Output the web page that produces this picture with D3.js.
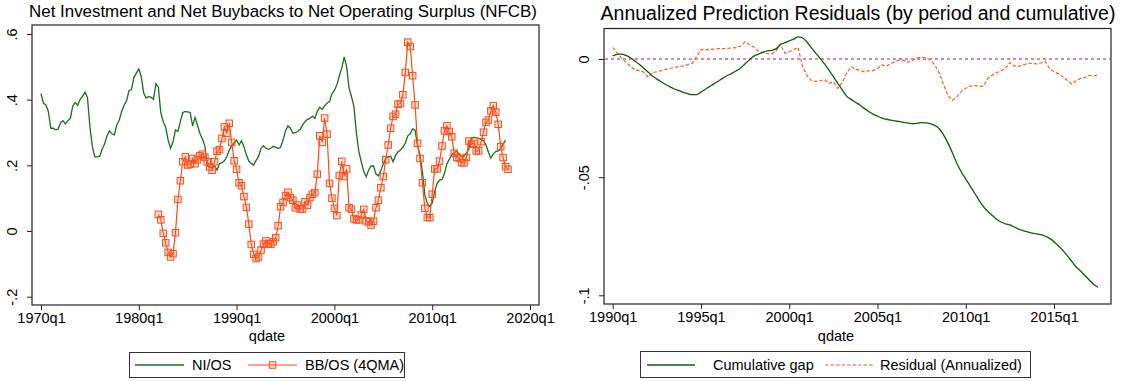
<!DOCTYPE html>
<meta charset="utf-8">
<title>NI/OS, BB/OS and prediction residuals</title>
<script src="https://d3js.org/d3.v7.min.js"></script>
<style>
  body { margin: 0; background: #fff; }
  text { font-family: "Liberation Sans", Arial, Helvetica, sans-serif; fill: #000; }
</style>
<body>
</body>
<script>
// ---- left panel data (quarterly) ----
var niStart = "1970q1";
var niOS = [
  .418, .389, .384, .364, .313, .313, .308, .310, .330, .336,
  .326, .336, .343, .381, .391, .383, .401, .410, .423, .407,
  .318, .257, .226, .226, .228, .249, .265, .290, .305, .296,
  .293, .323, .338, .364, .383, .397, .428, .430, .468, .481,
  .493, .470, .420, .405, .410, .407, .401, .448, .438, .360,
  .333, .316, .277, .252, .272, .308, .303, .333, .361, .364,
  .363, .361, .320, .346, .322, .297, .281, .260, .198, .195,
  .193, .198, .186, .205, .208, .214, .226, .247, .259, .268,
  .277, .262, .275, .257, .232, .213, .206, .201, .215, .228,
  .252, .259, .252, .249, .252, .258, .255, .252, .255, .277,
  .305, .320, .313, .298, .300, .303, .310, .323, .333, .340,
  .343, .350, .343, .364, .377, .371, .381, .389, .394, .418,
  .428, .445, .472, .496, .530, .501, .435, .409, .379, .298,
  .242, .211, .181, .165, .186, .198, .198, .174, .168, .184,
  .204, .221, .226, .228, .211, .231, .241, .247, .255, .267,
  .290, .296, .311, .308, .260, .232, .180, .110, .084, .074,
  .085, .120, .145, .155, .157, .175, .205, .218, .232, .240,
  .242, .235, .226, .228, .237, .250, .283, .285, .284, .282,
  .279, .275, .262, .240, .222, .235, .242, .244, .250, .265,
  .277
];
var bbStart = "1982q1";
var bbOS = [
  .051, .034, -.007, -.036, -.065, -.079, -.069, -.005, .096, .153,
  .211, .226, .201, .204, .221, .205, .217, .229, .234, .225,
  .211, .195, .185, .211, .243, .248, .282, .317, .298, .328,
  .270, .214, .188, .147, .138, .105, .072, .021, -.041, -.071,
  -.084, -.079, -.058, -.040, -.030, -.038, -.040, -.033, -.020, .016,
  .074, .087, .108, .118, .102, .094, .071, .079, .067, .067,
  .089, .079, .102, .112, .117, .173, .290, .270, .344, .295,
  .145, .100, .069, .047, .169, .212, .166, .189, .071, .066,
  .037, .034, .034, .049, .066, .031, .028, .018, .030, .071,
  .094, .132, .166, .217, .262, .313, .349, .356, .386, .388,
  .415, .483, .575, .562, .473, .384, .267, .221, .147, .069,
  .041, .041, .112, .189, .189, .213, .259, .305, .321, .303,
  .287, .237, .224, .222, .208, .208, .224, .274, .264, .267,
  .244, .244, .272, .301, .331, .338, .366, .382, .362, .325,
  .257, .224, .196, .188
];
var leftXTicks = ["1970q1", "1980q1", "1990q1", "2000q1", "2010q1", "2020q1"];
var leftYTicks = [-.2, 0, .2, .4, .6];

// ---- right panel data (quarterly) ----
var resStart = "1990q1";
var cumGap = [
  .0013, .0020, .0021, .0015, .0005, -.0008, -.0022, -.0038, -.0055, -.0072,
  -.0085, -.0096, -.0108, -.0118, -.0127, -.0134, -.0141, -.0147, -.0151, -.0151,
  -.0140, -.0128, -.0116, -.0104, -.0093, -.0081, -.0070, -.0061, -.0050, -.0038,
  -.0020, -.0003, .0012, .0021, .0028, .0034, .0037, .0043, .0060, .0069,
  .0077, .0084, .0094, .0090, .0072, .0048, .0025, .0003, -.0021, -.0047,
  -.0075, -.0103, -.0130, -.0157, -.0171, -.0183, -.0195, -.0209, -.0222, -.0233,
  -.0242, -.0250, -.0255, -.0259, -.0262, -.0265, -.0268, -.0271, -.0274, -.0272,
  -.0269, -.0270, -.0274, -.0281, -.0295, -.0322, -.0357, -.0398, -.0442, -.0478,
  -.0508, -.0537, -.0567, -.0597, -.0625, -.0645, -.0662, -.0678, -.0690, -.0698,
  -.0702, -.0711, -.0720, -.0726, -.0732, -.0737, -.0740, -.0743, -.0750, -.0759,
  -.0773, -.0790, -.0810, -.0832, -.0856, -.0879, -.0897, -.0916, -.0935, -.0954,
  -.0966
];
var residual = [
  .0049, .0026, .0004, -.0014, -.0030, -.0046, -.0049, -.0055, -.0077, -.0058,
  -.0054, -.0049, -.0044, -.0039, -.0036, -.0032, -.0029, -.0024, -.0018, .0010,
  .0040, .0039, .0040, .0042, .0044, .0044, .0045, .0047, .0048, .0055,
  .0073, .0060, .0050, .0033, .0027, .0023, .0021, .0035, .0063, .0025,
  .0030, .0040, .0049, -.0030, -.0068, -.0090, -.0095, -.0092, -.0087, -.0103,
  -.0096, -.0125, -.0100, -.0060, -.0033, -.0042, -.0049, -.0054, -.0050, -.0049,
  -.0040, -.0025, -.0030, -.0020, -.0011, -.0004, -.0006, -.0014, -.0005, .0004,
  .0008, .0004, -.0004, -.0025, -.0060, -.0110, -.0155, -.0175, -.0160, -.0138,
  -.0124, -.0115, -.0112, -.0116, -.0115, -.0082, -.0068, -.0058, -.0050, -.0040,
  -.0015, -.0030, -.0031, -.0025, -.0019, -.0018, -.0021, -.0017, -.0010, -.0040,
  -.0055, -.0062, -.0075, -.0090, -.0106, -.0092, -.0082, -.0078, -.0069, -.0072,
  -.0068
];
var rightXTicks = ["1990q1", "1995q1", "2000q1", "2005q1", "2010q1", "2015q1"];
var rightYTicks = [-.1, -.05, 0];

// "1970q1" -> quarter number
function qnum(s) {
  var p = s.split("q");
  return (+p[0]) * 4 + (+p[1]) - 1;
}
function stataNum(v) {
  if (v === 0) return "0";
  return String(v).replace("0.", ".");
}
function series(start, vals) {
  var q0 = qnum(start);
  return vals.map(function (v, i) { return { q: q0 + i, v: v }; });
}

var svg = d3.select("body").append("svg")
  .attr("width", 1125)
  .attr("height", 381);

function panel(opt) {
  var g = svg.append("g");
  var x = d3.scaleLinear()
    .domain([qnum(opt.xTicks[0]), qnum(opt.xTicks[opt.xTicks.length - 1])])
    .range(opt.xRange);
  var y = d3.scaleLinear().domain(opt.yDomain).range(opt.yRange);

  // title
  g.append("text")
    .attr("x", opt.titleX).attr("y", opt.titleY)
    .attr("text-anchor", "middle")
    .style("font-size", opt.titleSize + "px")
    .text(opt.title);

  // plot frame
  g.append("rect")
    .attr("x", opt.box[0]).attr("y", opt.box[1])
    .attr("width", opt.box[2] - opt.box[0]).attr("height", opt.box[3] - opt.box[1])
    .attr("fill", "none").attr("stroke", "#222").attr("stroke-width", 1.2);

  var xAxis = g.append("g")
    .attr("transform", "translate(0," + opt.box[3] + ")")
    .call(d3.axisBottom(x)
      .tickValues(opt.xTicks.map(qnum))
      .tickFormat(function (d, i) { return opt.xTicks[i]; })
      .tickSize(5).tickPadding(3));
  xAxis.select(".domain").remove();
  xAxis.selectAll("text").style("font-size", "14.5px").attr("fill", "#000").attr("font-family", null);

  var yAxis = g.append("g")
    .attr("transform", "translate(" + opt.box[0] + ",0)")
    .call(d3.axisLeft(y).tickValues(opt.yTicks).tickFormat(stataNum).tickSize(5).tickPadding(6));
  yAxis.select(".domain").remove();
  yAxis.selectAll("text")
    .style("font-size", "14.5px").attr("fill", "#000").attr("font-family", null)
    .attr("x", null).attr("dy", null)
    .attr("text-anchor", "middle")
    .attr("transform", "translate(-15,0) rotate(-90)");
  g.selectAll(".tick line").attr("stroke", "#222");

  g.append("text")
    .attr("x", opt.qdateX).attr("y", 341)
    .attr("text-anchor", "middle")
    .style("font-size", "14.5px")
    .text("qdate");

  return { g: g, x: x, y: y };
}

// ---------- left panel ----------
var L = panel({
  title: "Net Investment and Net Buybacks to Net Operating Surplus (NFCB)",
  titleX: 283, titleY: 17, titleSize: 16.9,
  box: [32, 25, 539, 305],
  xTicks: leftXTicks, xRange: [41, 530],
  yTicks: leftYTicks, yDomain: [-.2, .6], yRange: [296.7, 34],
  qdateX: 267
});

var lineL = d3.line()
  .x(function (d) { return L.x(d.q); })
  .y(function (d) { return L.y(d.v); });

L.g.append("path")
  .datum(series(niStart, niOS))
  .attr("d", lineL)
  .attr("fill", "none").attr("stroke", "#1c6e1c").attr("stroke-width", 1.3);

var bbData = series(bbStart, bbOS);
L.g.append("path")
  .datum(bbData)
  .attr("d", lineL)
  .attr("fill", "none").attr("stroke", "#ff4a14").attr("stroke-width", 1.2);
L.g.selectAll("rect.mk")
  .data(bbData)
  .enter().append("rect")
  .attr("class", "mk")
  .attr("x", function (d) { return L.x(d.q) - 3.25; })
  .attr("y", function (d) { return L.y(d.v) - 3.25; })
  .attr("width", 6.5).attr("height", 6.5)
  .attr("fill", "rgba(255,110,70,0.2)")
  .attr("stroke", "#ff4a14").attr("stroke-width", 1);

// left legend
var lg = svg.append("g");
lg.append("rect").attr("x", 129.5).attr("y", 352.5).attr("width", 275).attr("height", 25)
  .attr("fill", "#fff").attr("stroke", "#333");
lg.append("line").attr("x1", 135).attr("x2", 184).attr("y1", 365).attr("y2", 365)
  .attr("stroke", "#1c6e1c").attr("stroke-width", 1.3);
lg.append("text").attr("x", 192).attr("y", 370).style("font-size", "14.5px").text("NI/OS");
lg.append("line").attr("x1", 248).attr("x2", 297).attr("y1", 365).attr("y2", 365)
  .attr("stroke", "#ff4a14").attr("stroke-width", 1.2);
lg.append("rect").attr("x", 269.25).attr("y", 361.75).attr("width", 6.5).attr("height", 6.5)
  .attr("fill", "rgba(255,110,70,0.2)").attr("stroke", "#ff4a14");
lg.append("text").attr("x", 305).attr("y", 370).style("font-size", "14.5px").text("BB/OS (4QMA)");

// ---------- right panel ----------
var R = panel({
  title: "Annualized Prediction Residuals (by period and cumulative)",
  titleX: 858, titleY: 20, titleSize: 19.5,
  box: [604, 28.5, 1111, 304],
  xTicks: rightXTicks, xRange: [612.7, 1054],
  yTicks: rightYTicks, yDomain: [-.1, 0], yRange: [295.3, 59],
  qdateX: 836
});

// zero reference line
R.g.append("line")
  .attr("x1", 605).attr("x2", 1110)
  .attr("y1", R.y(0)).attr("y2", R.y(0))
  .attr("stroke", "#d9607f").attr("stroke-width", 1.5).attr("stroke-dasharray", "3,3");

var lineR = d3.line()
  .x(function (d) { return R.x(d.q); })
  .y(function (d) { return R.y(d.v); });

R.g.append("path")
  .datum(series(resStart, residual))
  .attr("d", lineR)
  .attr("fill", "none").attr("stroke", "#ff5a1e").attr("stroke-width", 1.2)
  .attr("stroke-dasharray", "3.5,2");

R.g.append("path")
  .datum(series(resStart, cumGap))
  .attr("d", d3.line().curve(d3.curveMonotoneX)
    .x(function (d) { return R.x(d.q); })
    .y(function (d) { return R.y(d.v); }))
  .attr("fill", "none").attr("stroke", "#0b5e0b").attr("stroke-width", 1.3);

// right legend
var rg = svg.append("g");
rg.append("rect").attr("x", 640.5).attr("y", 351.5).attr("width", 390).attr("height", 26)
  .attr("fill", "#fff").attr("stroke", "#333");
rg.append("line").attr("x1", 647).attr("x2", 695).attr("y1", 365).attr("y2", 365)
  .attr("stroke", "#0b5e0b").attr("stroke-width", 1.3);
rg.append("text").attr("x", 713).attr("y", 370).style("font-size", "14.5px").text("Cumulative gap");
rg.append("line").attr("x1", 825).attr("x2", 873).attr("y1", 365).attr("y2", 365)
  .attr("stroke", "#ff5a1e").attr("stroke-width", 1.2).attr("stroke-dasharray", "3.5,2");
rg.append("text").attr("x", 880).attr("y", 370).style("font-size", "14.5px").text("Residual (Annualized)");
</script>
